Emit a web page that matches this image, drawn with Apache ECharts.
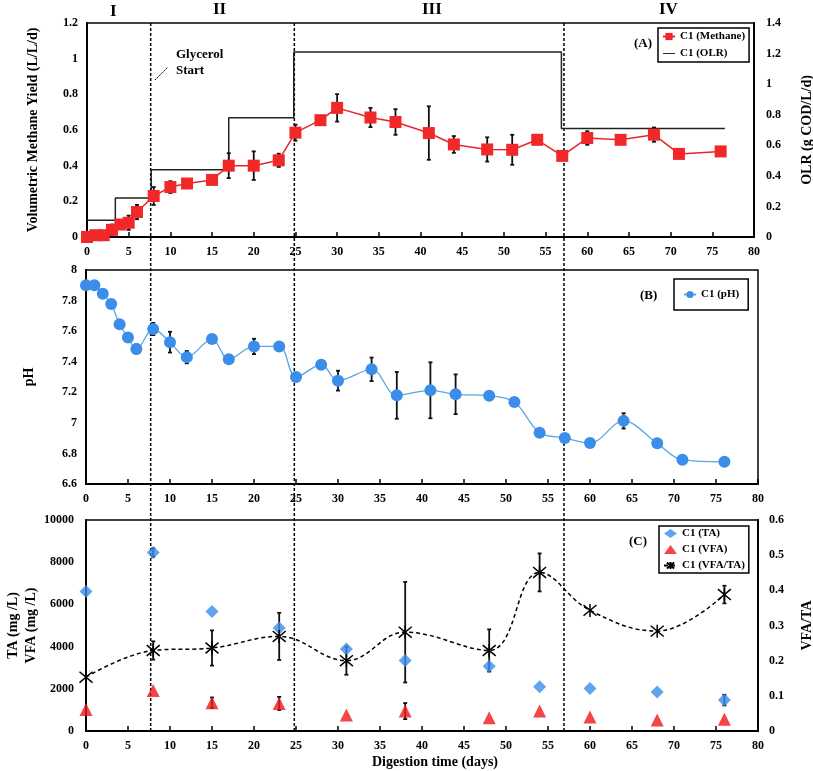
<!DOCTYPE html>
<html>
<head>
<meta charset="utf-8">
<script src="https://cdn.jsdelivr.net/npm/echarts@6/dist/echarts.min.js"></script>
<style>html,body{margin:0;padding:0;background:#fff}#c{width:813px;height:771px}</style>
</head>
<body>
<div id="c"></div>
<script>
// ---- Data ----
const days = [0,1,2,3,4,5,6,8,10,12,15,17,20,23,25,28,30,34,37,41,44,48,51,54,57,60,64,68,71,76];
const methane = [0,0.01,0.01,0.04,0.07,0.08,0.14,0.23,0.28,0.30,0.32,0.40,0.40,0.43,0.585,0.655,0.724,0.67,0.645,0.583,0.519,0.491,0.489,0.545,0.455,0.555,0.545,0.574,0.466,0.48];
const methaneErr = [0,0,0,0.03,0.02,0.04,0.04,0.05,0.033,0,0,0.07,0.08,0.037,0.045,0,0.077,0.054,0.072,0.15,0.047,0.068,0.084,0,0,0.038,0,0.04,0,0];
const olrDays = [0,3.4,7.7,17,24.8,56.9,76.5];
const olr = [0.11,0.255,0.44,0.78,1.21,0.71,0.71];
const ph = [7.90,7.90,7.845,7.777,7.645,7.558,7.483,7.614,7.528,7.43,7.548,7.416,7.50,7.50,7.30,7.38,7.276,7.35,7.18,7.213,7.187,7.178,7.136,6.936,6.901,6.868,7.013,6.866,6.758,6.745];
const phErr = [0,0,0,0,0,0,0.03,0.04,0.068,0.04,0,0,0.05,0,0,0,0.065,0.077,0.153,0.183,0.13,0,0,0,0,0,0.05,0,0,0];
const cDays = [0,8,15,23,31,38,48,54,60,68,76];
const ta = [6614,8457,5669,4882,3890,3339,3071,2094,2016,1843,1465];
const taErr = [0,200,0,0,0,0,0,0,0,0,250];
const vfa = [1024,1921,1339,1307,756,945,630,945,661,520,551];
const vfaErr = [0,0,250,310,0,380,0,0,0,0,0];
const ratio = [0.153,0.229,0.236,0.269,0.200,0.281,0.229,0.451,0.343,0.284,0.388];
const ratioErr = [0,0.026,0.05,0.067,0.04,0.143,0.06,0.054,0,0,0.025];
const phaseDividers = [7.7,24.8,56.9];
const phaseLabels = ['I','II','III','IV'];

// ---- Helpers ----
const FONT = "'Liberation Serif','Times New Roman',serif";
const txt = (size) => ({fontFamily: FONT, fontWeight: 'bold', fontSize: size, color: '#000'});
const pairs = (xs, ys) => xs.map((x, i) => [x, ys[i]]);
const errData = (xs, ys, es) => xs.map((x, i) => [x, ys[i], es[i]]).filter(d => d[2] > 0);
const plain = v => String(Math.round(v * 1000) / 1000);

function errRender(params, api) {
  const x = api.value(0), y = api.value(1), e = api.value(2);
  const t = api.coord([x, y + e]), b = api.coord([x, y - e]);
  const c = 2;
  const st = {stroke: '#111', lineWidth: 1.8};
  return {type: 'group', children: [
    {type: 'line', shape: {x1: t[0], y1: t[1], x2: b[0], y2: b[1]}, style: st},
    {type: 'line', shape: {x1: t[0]-c, y1: t[1], x2: t[0]+c, y2: t[1]}, style: st},
    {type: 'line', shape: {x1: b[0]-c, y1: b[1], x2: b[0]+c, y2: b[1]}, style: st}
  ]};
}
function dividerRender(params, api) {
  const x = api.value(0);
  const p1 = api.coord([x, 1]), p2 = api.coord([x, 0]);
  return {type: 'line', shape: {x1: p1[0], y1: p1[1], x2: p2[0], y2: p2[1]},
    style: {stroke: '#000', lineWidth: 1.5, lineDash: [3, 2]}};
}

function xAxisCfg(gi, extra) {
  return Object.assign({
    type: 'value', gridIndex: gi, min: 0, max: 80, interval: 5,
    axisLine: {onZero: false, lineStyle: {color: '#000', width: 2}},
    axisTick: {inside: true, length: 5, lineStyle: {color: '#000', width: 1.5}},
    axisLabel: Object.assign(txt(12), {margin: 9, formatter: plain}),
    splitLine: {show: false}
  }, extra || {});
}
function yAxisCfg(gi, min, max, interval, pos, name, nameGap, margin) {
  return {
    type: 'value', gridIndex: gi, min: min, max: max, interval: interval, position: pos,
    name: name, nameLocation: 'middle', nameGap: nameGap, nameRotate: 90, nameMoveOverlap: false,
    nameTextStyle: Object.assign(txt(14), {lineHeight: 18}),
    axisLine: {show: true, onZero: false, lineStyle: {color: '#000', width: 2}},
    axisTick: {show: false},
    axisLabel: Object.assign(txt(12), {margin: margin, formatter: plain}),
    splitLine: {show: false}
  };
}

const gridStyle = {show: true, borderColor: '#000', borderWidth: 1.5, backgroundColor: 'transparent',
  containLabel: false, outerBoundsMode: 'none'};
const asterisk = 'path://M0,0L10,10M10,0L0,10M5,-1L5,11';
const lineIcon = 'path://M0,4.2H20V5.8H0Z';

const option = {
  animation: false,
  backgroundColor: '#fff',
  grid: [
    Object.assign({left: 87, right: 59, top: 23, height: 214}, gridStyle),
    Object.assign({left: 86, right: 55, top: 270, height: 214}, gridStyle),
    Object.assign({left: 86, right: 55, top: 520, height: 211}, gridStyle),
    {left: 86, right: 55, top: 23, bottom: 40, show: false, containLabel: false, outerBoundsMode: 'none'}
  ],
  xAxis: [
    xAxisCfg(0), xAxisCfg(1),
    xAxisCfg(2, {name: 'Digestion time (days)', nameLocation: 'middle', nameGap: 24, nameMoveOverlap: false,
      nameTextStyle: Object.assign(txt(14), {padding: [0, 0, 0, 26]})}),
    {type: 'value', gridIndex: 3, min: 0, max: 80, show: false}
  ],
  yAxis: [
    yAxisCfg(0, 0, 1.2, 0.2, 'left', 'Volumetric Methane Yield (L/L/d)', 45, 9),
    yAxisCfg(0, 0, 1.4, 0.2, 'right', 'OLR (g COD/L/d)', 44, 12),
    yAxisCfg(1, 6.6, 8, 0.2, 'left', 'pH', 48, 9),
    yAxisCfg(2, 0, 10000, 2000, 'left', 'TA (mg /L)\nVFA (mg /L)', 46, 12),
    yAxisCfg(2, 0, 0.6, 0.1, 'right', 'VFA/TA', 40, 11),
    {type: 'value', gridIndex: 3, min: 0, max: 1, show: false}
  ],
  legend: [
    {data: [{name: 'C1 (Methane)'}, {name: 'C1 (OLR)', icon: lineIcon}], orient: 'vertical', left: 658, top: 28,
      borderColor: '#000', borderWidth: 1.5, padding: [3, 4], itemGap: 6,
      itemWidth: 12, itemHeight: 9, textStyle: txt(11)},
    {data: ['C1 (pH)'], orient: 'vertical', left: 674, top: 279,
      borderColor: '#000', borderWidth: 1.5, padding: [10, 9],
      itemWidth: 12, itemHeight: 9, textStyle: txt(11)},
    {data: ['C1 (TA)', 'C1 (VFA)', 'C1 (VFA/TA)'], orient: 'vertical', left: 659, top: 526,
      borderColor: '#000', borderWidth: 1.5, padding: [2, 4], itemGap: 5,
      itemWidth: 13, itemHeight: 9, textStyle: txt(11)}
  ],
  series: [
    {type: 'custom', name: 'dividers', xAxisIndex: 3, yAxisIndex: 5, silent: true, z: 1,
      data: phaseDividers.map(d => [d, 0]), renderItem: dividerRender},
    // Panel A
    {type: 'line', name: 'C1 (OLR)', xAxisIndex: 0, yAxisIndex: 1, step: 'end', symbol: 'none',
      data: pairs(olrDays, olr), lineStyle: {color: '#222', width: 1.5}, itemStyle: {color: '#222'}, z: 2},
    {type: 'custom', name: 'mErr', xAxisIndex: 0, yAxisIndex: 0, z: 3,
      data: errData(days, methane, methaneErr), renderItem: errRender},
    {type: 'line', name: 'C1 (Methane)', xAxisIndex: 0, yAxisIndex: 0, symbol: 'rect', symbolSize: 12,
      data: pairs(days, methane), lineStyle: {color: '#e8262a', width: 1.5},
      itemStyle: {color: '#f0282a'}, z: 4},
    // Panel B
    {type: 'custom', name: 'phErr', xAxisIndex: 1, yAxisIndex: 2, z: 3,
      data: errData(days, ph, phErr), renderItem: errRender},
    {type: 'line', name: 'C1 (pH)', xAxisIndex: 1, yAxisIndex: 2, smooth: 0.35, symbol: 'circle', symbolSize: 12,
      data: pairs(days, ph), lineStyle: {color: '#5aa8de', width: 1.3},
      itemStyle: {color: '#3a8de8'}, z: 4},
    // Panel C
    {type: 'custom', name: 'taErr', xAxisIndex: 2, yAxisIndex: 3, z: 3,
      data: errData(cDays, ta, taErr), renderItem: errRender},
    {type: 'custom', name: 'vfaErr', xAxisIndex: 2, yAxisIndex: 3, z: 3,
      data: errData(cDays, vfa, vfaErr), renderItem: errRender},
    {type: 'custom', name: 'rErr', xAxisIndex: 2, yAxisIndex: 4, z: 3,
      data: errData(cDays, ratio, ratioErr), renderItem: errRender},
    {type: 'scatter', name: 'C1 (TA)', xAxisIndex: 2, yAxisIndex: 3, symbol: 'diamond', symbolSize: 13,
      data: pairs(cDays, ta), itemStyle: {color: '#3a8de8'}, z: 4},
    {type: 'scatter', name: 'C1 (VFA)', xAxisIndex: 2, yAxisIndex: 3, symbol: 'triangle', symbolSize: 13,
      data: pairs(cDays, vfa), itemStyle: {color: '#f01818'}, z: 4},
    {type: 'line', name: 'C1 (VFA/TA)', xAxisIndex: 2, yAxisIndex: 4, smooth: 0.4, symbol: asterisk, symbolSize: 13,
      showAllSymbol: true,
      data: pairs(cDays, ratio), lineStyle: {color: '#000', width: 1.5, type: [4, 3]},
      itemStyle: {color: 'rgba(0,0,0,0)', borderColor: '#000', borderWidth: 1.5}, z: 4}
  ],
  graphic: [
    {type: 'text', left: 110, top: 3, style: Object.assign({text: phaseLabels[0]}, txt(17))},
    {type: 'text', left: 213, top: 1, style: Object.assign({text: phaseLabels[1]}, txt(17))},
    {type: 'text', left: 422, top: 1, style: Object.assign({text: phaseLabels[2]}, txt(17))},
    {type: 'text', left: 659, top: 1, style: Object.assign({text: phaseLabels[3]}, txt(17))},
    {type: 'text', left: 176, top: 47, style: Object.assign({text: 'Glycerol\nStart', lineHeight: 16}, txt(13))},
    {type: 'line', shape: {x1: 155, y1: 80, x2: 168, y2: 67}, style: {stroke: '#000', lineWidth: 1, lineDash: [2, 1]}},
    {type: 'text', left: 634, top: 37, style: Object.assign({text: '(A)'}, txt(13))},
    {type: 'text', left: 640, top: 289, style: Object.assign({text: '(B)'}, txt(13))},
    {type: 'text', left: 629, top: 535, style: Object.assign({text: '(C)'}, txt(13))}
  ]
};

const chart = echarts.init(document.getElementById('c'), null, {renderer: 'canvas'});
chart.setOption(option);
</script>
</body>
</html>
